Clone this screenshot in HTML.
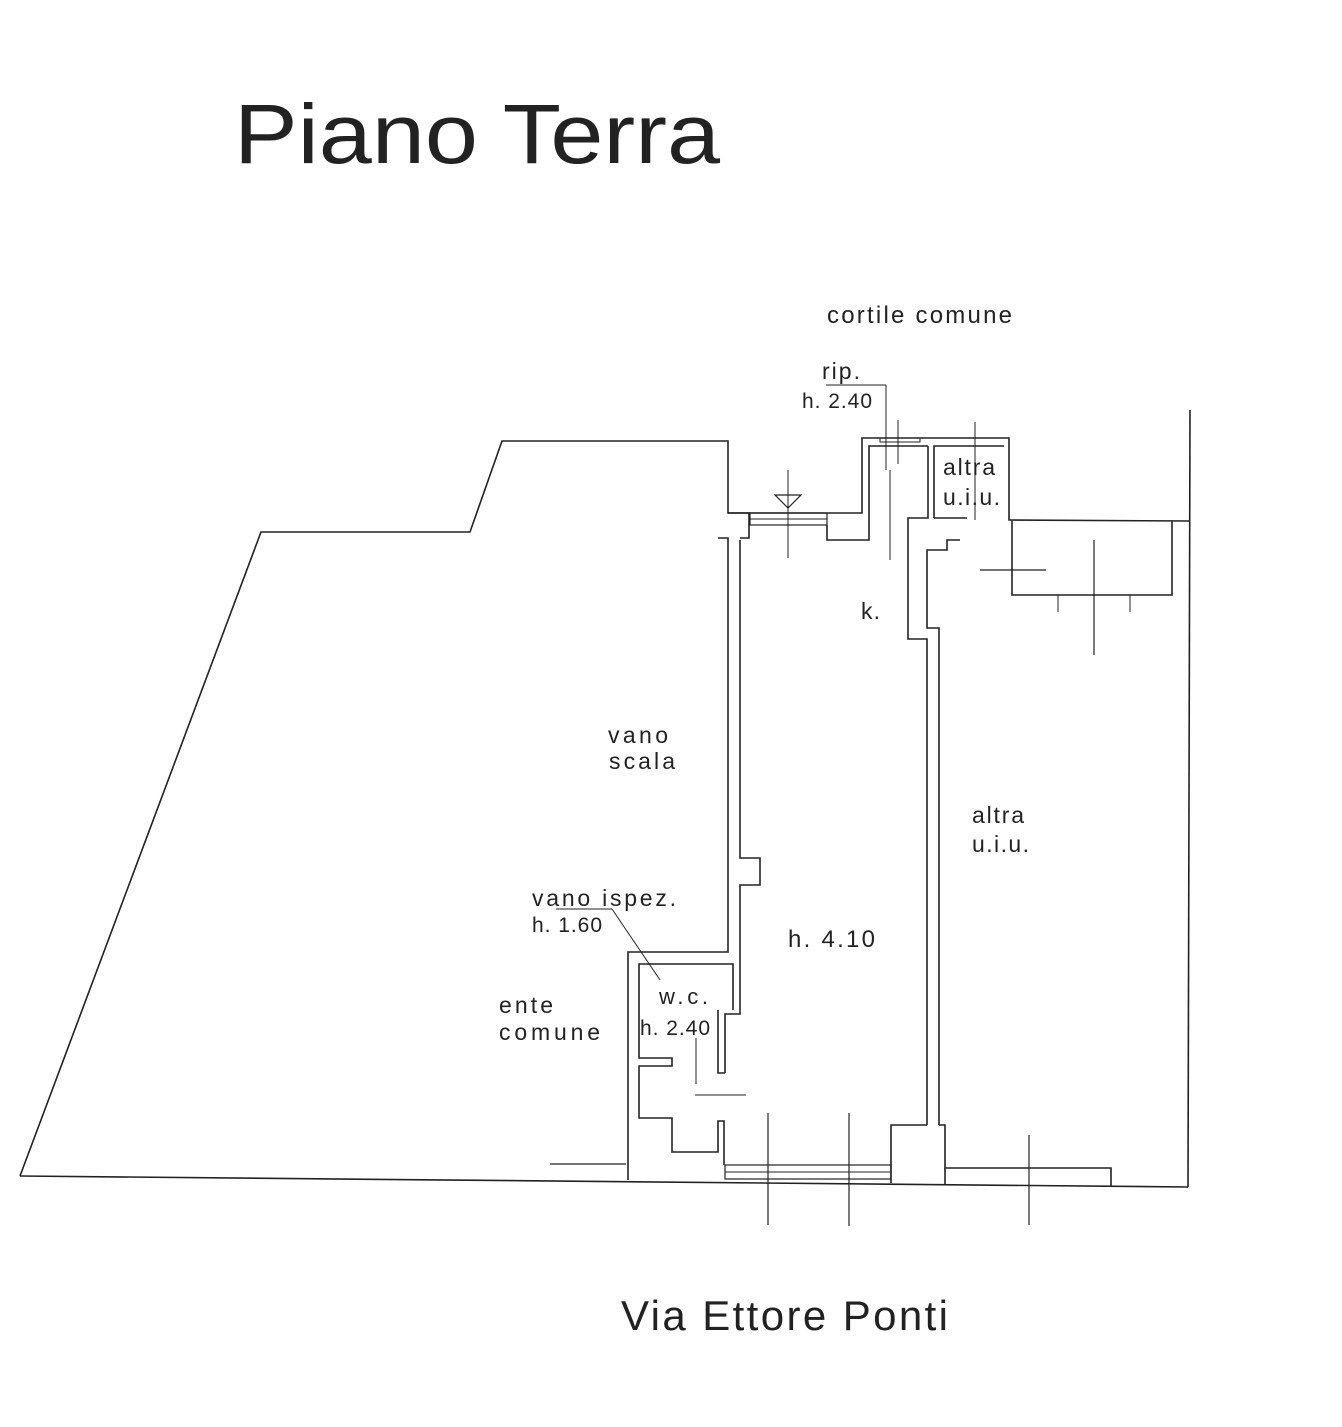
<!DOCTYPE html>
<html><head><meta charset="utf-8"><style>
html,body{margin:0;padding:0;background:#fff;}
svg{display:block}
text{font-family:"Liberation Sans",sans-serif;fill:#222}
</style></head><body>
<svg width="1342" height="1427" viewBox="0 0 1342 1427" xmlns="http://www.w3.org/2000/svg">
<text x="234" y="163" font-size="84" fill="#111" textLength="486" lengthAdjust="spacingAndGlyphs">Piano Terra</text>
<text x="827" y="323" font-size="24" textLength="185">cortile comune</text>
<text x="822" y="379" font-size="23" textLength="38">rip.</text>
<text x="802" y="408" font-size="21" fill="#777" textLength="70">h. 2.40</text>
<text x="943" y="475" font-size="23" textLength="52">altra</text>
<text x="943" y="505" font-size="23" textLength="57">u.i.u.</text>
<text x="861" y="619" font-size="23" textLength="19">k.</text>
<text x="608" y="743" font-size="23" textLength="60">vano</text>
<text x="609" y="769" font-size="23" textLength="66">scala</text>
<text x="972" y="823" font-size="23" textLength="52">altra</text>
<text x="972" y="852" font-size="23" textLength="57">u.i.u.</text>
<text x="532" y="906" font-size="23" textLength="144">vano ispez.</text>
<text x="532" y="932" font-size="21" fill="#777" textLength="70">h. 1.60</text>
<text x="788" y="947" font-size="24" textLength="87">h. 4.10</text>
<text x="659" y="1004" font-size="22" textLength="49">w.c.</text>
<text x="640" y="1035" font-size="21" fill="#777" textLength="70">h. 2.40</text>
<text x="499" y="1013" font-size="23" textLength="54">ente</text>
<text x="499" y="1040" font-size="23" textLength="101">comune</text>
<text x="621" y="1330" font-size="42" textLength="327">Via Ettore Ponti</text>
<g fill="none" stroke="#222" stroke-width="1.6">
<polyline points="20,1176 261,532 470,532 502,441 728,441 728,513 862,513 862,438 1009,438 1009,520 1190,521"/>
<line x1="1190" y1="410" x2="1188" y2="1187"/>
<line x1="20" y1="1176" x2="1188" y2="1187"/>
<line x1="826" y1="385" x2="886" y2="385" stroke-width="1"/>
<line x1="886" y1="385" x2="886" y2="470" stroke-width="1"/>
<line x1="556" y1="909" x2="612" y2="909" stroke-width="1"/>
<line x1="612" y1="909" x2="660" y2="980" stroke-width="1"/>
<rect x="750" y="513" width="77" height="12" stroke-width="1.2"/>
<line x1="750" y1="519" x2="827" y2="519" stroke-width="1"/>
<polyline points="827,525 827,540 869,540 869,446 928,446"/>
<rect x="880" y="438" width="40" height="4" stroke-width="1"/>
<line x1="788" y1="470" x2="788" y2="558" stroke-width="1"/>
<polygon points="775,495 801,495 788,508" stroke-width="1.2"/>
<line x1="898" y1="420" x2="898" y2="464" stroke-width="1"/>
<line x1="890" y1="470" x2="890" y2="560" stroke-width="1"/>
<polyline points="928,446 928,518 908,518 908,639 927,639 927,1125"/>
<polyline points="934,518 934,446 1004,446"/>
<line x1="934" y1="518" x2="967" y2="518"/>
<line x1="975" y1="422" x2="975" y2="520" stroke-width="1"/>
<polyline points="960,540 947,540 947,550 927,550 927,628 939,628 939,1125"/>
<polyline points="1012,521 1012,595 1172,595 1172,521"/>
<line x1="980" y1="570" x2="1046" y2="570" stroke-width="1.2"/>
<line x1="1094" y1="540" x2="1094" y2="655" stroke-width="1.2"/>
<line x1="1058" y1="595" x2="1058" y2="612" stroke-width="1"/>
<line x1="1130" y1="595" x2="1130" y2="612" stroke-width="1"/>
<polyline points="718,538 728,538 728,952 628,952 628,1180"/>
<polyline points="740,540 740,858 760,858 760,885 740,885 740,1014 725,1014 725,1073"/>
<polyline points="728,513 749,513 749,538 740,538"/>
<polyline points="733,1010 733,964 639,964 639,1058 672,1058 672,1066 639,1066 639,1118 672,1118 672,1152 718,1152 718,1121 724,1121 724,1165"/>
<polyline points="718,1010 718,1073 725,1073"/>
<line x1="696" y1="1038" x2="696" y2="1084" stroke-width="1"/>
<line x1="695" y1="1095" x2="746" y2="1095" stroke-width="1"/>
<line x1="550" y1="1164" x2="626" y2="1164" stroke-width="1.2"/>
<rect x="725" y="1165" width="166" height="14" stroke-width="1.2"/>
<line x1="725" y1="1172" x2="891" y2="1172" stroke-width="1"/>
<line x1="768" y1="1113" x2="768" y2="1225" stroke-width="1.2"/>
<line x1="849" y1="1113" x2="849" y2="1226" stroke-width="1.2"/>
<polyline points="891,1183 891,1125 927,1125"/>
<polyline points="939,1125 945,1125 945,1168 1111,1168 1111,1186"/>
<line x1="945" y1="1168" x2="945" y2="1185"/>
<line x1="1029" y1="1135" x2="1029" y2="1225" stroke-width="1.2"/>
</g>
</svg>
</body></html>
